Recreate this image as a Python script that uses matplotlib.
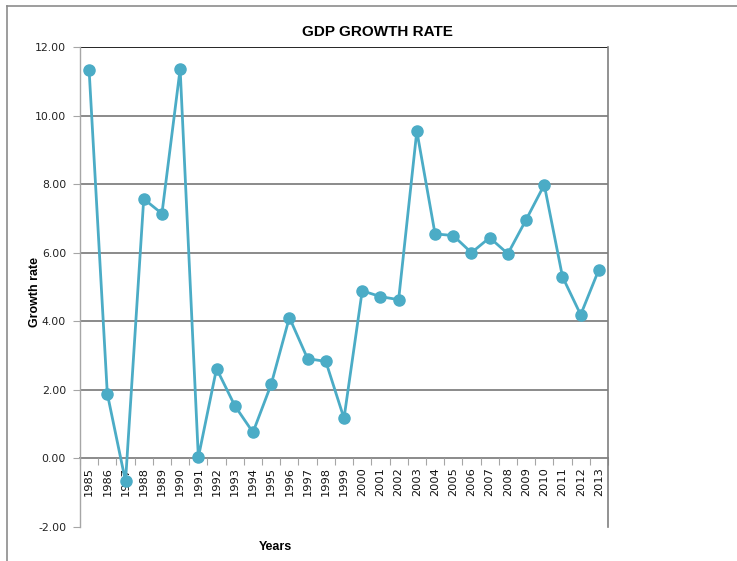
import matplotlib
matplotlib.use("Agg")
import matplotlib.pyplot as plt
from matplotlib.lines import Line2D
import numpy as np

years = [str(y) for y in range(1985, 2014)]
growth = [11.33, 1.89, -0.67, 7.57, 7.14, 11.36, 0.03, 2.62, 1.54, 0.76,
          2.16, 4.11, 2.91, 2.83, 1.17, 4.89, 4.72, 4.63, 9.55, 6.55,
          6.50, 6.00, 6.44, 5.97, 6.96, 7.98, 5.30, 4.19, 5.51]
y_ticks = [-2, 0, 2, 4, 6, 8, 10, 12]

W, H = 737, 561
fig = plt.figure(figsize=(W / 100, H / 100), dpi=100)
plt.rcParams['font.family'] = ['Liberation Sans', 'DejaVu Sans']

# outer chart frame (left and top edges)
fig.add_artist(Line2D([7 / W, 7 / W], [0, 1 - 6 / H], transform=fig.transFigure,
                      color='#8c8c8c', lw=1.2))
fig.add_artist(Line2D([7 / W, 1], [1 - 6 / H, 1 - 6 / H], transform=fig.transFigure,
                      color='#8c8c8c', lw=1.2))

ax = fig.add_axes([80 / W, 1 - 527 / H, (608 - 80) / W, (527 - 47) / H])
x = np.arange(len(years))
ax.set_xlim(-0.5, len(years) - 0.5)
ax.set_ylim(-2, 12)

# horizontal gridlines
for v in y_ticks:
    if v in (-2, 0, 12):
        continue
    ax.axhline(v, color='#8a8a8a', lw=1.4, zorder=1)
ax.axhline(12, color='black', lw=1.2, zorder=1)

ax.plot(x, growth, color='#4BACC6', lw=2.0, marker='o', markersize=8,
        markerfacecolor='#4BACC6', markeredgecolor='#4BACC6', zorder=3,
        clip_on=False)

ax.spines['top'].set_visible(False)
ax.spines['left'].set_color('#a6a6a6')
ax.spines['left'].set_linewidth(1.0)
ax.spines['right'].set_color('#7f7f7f')
ax.spines['right'].set_linewidth(1.2)
ax.spines['bottom'].set_position(('data', 0))
ax.spines['bottom'].set_color('#8a8a8a')
ax.spines['bottom'].set_linewidth(1.4)
ax.spines['bottom'].set_zorder(1)

ax.set_yticks(y_ticks)
ax.set_yticklabels([f"{v:.2f}" for v in y_ticks], fontsize=7.8,
                   family='DejaVu Sans', color='#222222')
ax.tick_params(axis='y', length=5, width=0.8, color='#a6a6a6', pad=5)

ax.set_xticks(x)
ax.set_xticklabels(years, rotation=90, fontsize=8.2, family='DejaVu Sans',
                   color='#111111')
ax.set_xticks(np.arange(len(years) + 1) - 0.5, minor=True)
ax.tick_params(axis='x', which='major', length=0, pad=6)
ax.tick_params(axis='x', which='minor', length=5, width=0.8, color='#a6a6a6')

fig.text(377 / W, 1 - 32 / H, "GDP GROWTH RATE", ha='center', va='center',
         fontsize=11, fontweight='bold')
fig.text(35 / W, 1 - 292 / H, "Growth rate", ha='center', va='center',
         rotation=90, fontsize=9, fontweight='bold')
fig.text(275 / W, 1 - 547 / H, "Years", ha='center', va='center',
         fontsize=9, fontweight='bold')

fig.savefig("out.png", dpi=100)
